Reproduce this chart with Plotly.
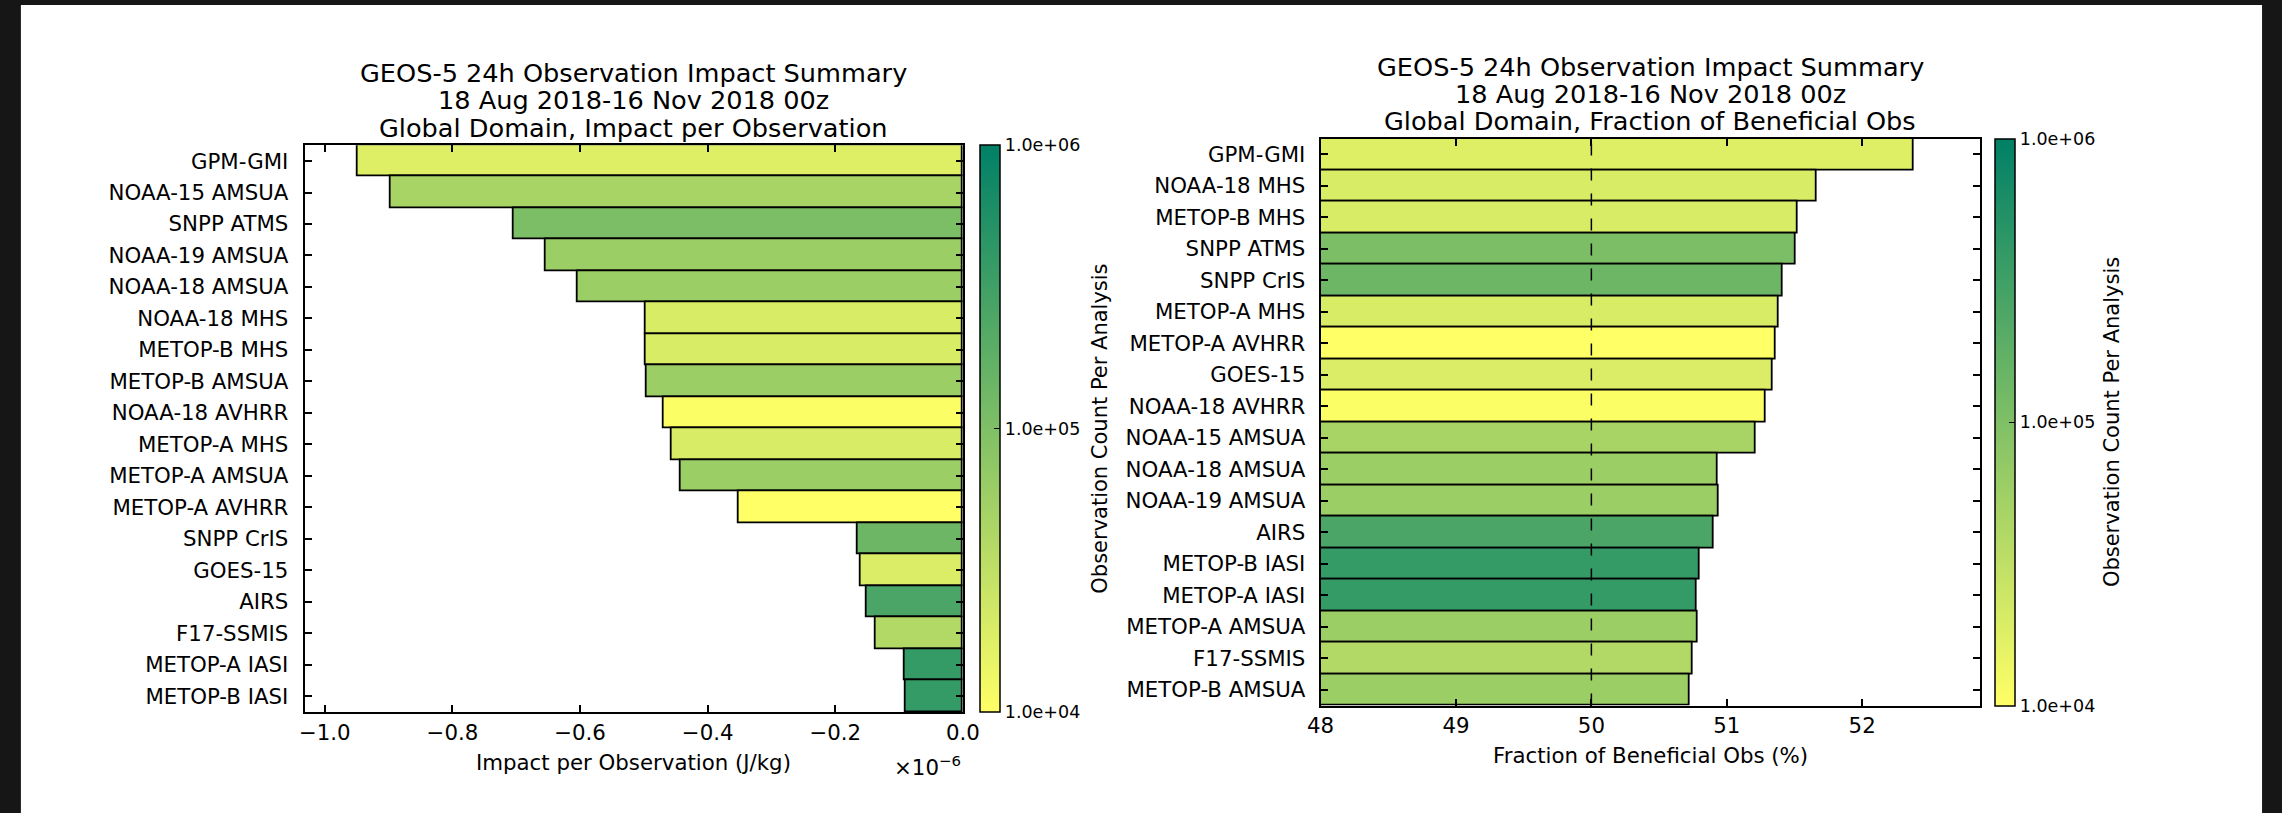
import numpy as np
import plotly.graph_objects as go

# ---------------- data ----------------
instruments_impact = [
    "GPM-GMI", "NOAA-15 AMSUA", "SNPP ATMS", "NOAA-19 AMSUA", "NOAA-18 AMSUA",
    "NOAA-18 MHS", "METOP-B MHS", "METOP-B AMSUA", "NOAA-18 AVHRR", "METOP-A MHS",
    "METOP-A AMSUA", "METOP-A AVHRR", "SNPP CrIS", "GOES-15", "AIRS",
    "F17-SSMIS", "METOP-A IASI", "METOP-B IASI",
]
impact_per_obs = [  # J/kg
    -0.948e-6, -0.897e-6, -0.704e-6, -0.654e-6, -0.604e-6,
    -0.497e-6, -0.497e-6, -0.495e-6, -0.469e-6, -0.456e-6,
    -0.443e-6, -0.352e-6, -0.165e-6, -0.161e-6, -0.151e-6,
    -0.137e-6, -0.092e-6, -0.090e-6,
]
obs_count = [  # observation count per analysis (same order as instruments_impact)
    1.8e4, 4.8e4, 1.07e5, 6.0e4, 6.0e4,
    2.0e4, 2.0e4, 6.0e4, 1.05e4, 2.0e4,
    6.0e4, 1.0e4, 1.4e5, 1.9e4, 2.6e5,
    4.0e4, 3.9e5, 3.9e5,
]

instruments_frac = [
    "GPM-GMI", "NOAA-18 MHS", "METOP-B MHS", "SNPP ATMS", "SNPP CrIS",
    "METOP-A MHS", "METOP-A AVHRR", "GOES-15", "NOAA-18 AVHRR", "NOAA-15 AMSUA",
    "NOAA-18 AMSUA", "NOAA-19 AMSUA", "AIRS", "METOP-B IASI", "METOP-A IASI",
    "METOP-A AMSUA", "F17-SSMIS", "METOP-B AMSUA",
]
frac_beneficial = [  # percent
    52.38, 51.665, 51.52, 51.51, 51.41,
    51.385, 51.363, 51.34, 51.29, 51.21,
    50.934, 50.94, 50.90, 50.80, 50.78,
    50.785, 50.747, 50.725,
]

cbar_tickvals = [4, 5, 6]
cbar_ticktext = ["1.0e+04", "1.0e+05", "1.0e+06"]

count_by_name = dict(zip(instruments_impact, obs_count))
obs_count_frac = [count_by_name[n] for n in instruments_frac]

# ---------------- layout helpers ----------------
W, H = 2282, 813
FONT = "DejaVu Sans"
TICK_SIZE = 21.3
TITLE_SIZE = 25.6


def fx(p):
    return p / W


def fy(p):
    return 1 - p / H


summer_r = [[0.0, "#ffff66"], [1.0, "#008066"]]

# plot boxes (pixels)
L = dict(x0=294.6, x1=962.0, y0=145.3, y1=712.0)
R = dict(x0=1324.6, x1=1993.0, y0=138.5, y1=705.5)


def cbar(box, x_left):
    return dict(
        x=fx(x_left), xanchor="left", xpad=0,
        y=fy(box["y1"]), yanchor="bottom", ypad=0,
        len=(box["y1"] - box["y0"]) / H, lenmode="fraction",
        thickness=20, thicknessmode="pixels",
        outlinecolor="black", outlinewidth=1.5,
        tickvals=cbar_tickvals, ticktext=cbar_ticktext,
        ticks="inside", ticklen=6, tickwidth=1.2, tickcolor="black",
        tickfont=dict(family=FONT, size=17.5, color="black"),
    )


fig = go.Figure()

fig.add_trace(go.Bar(
    x=np.array(impact_per_obs) * 1e6, y=instruments_impact, orientation="h",
    xaxis="x", yaxis="y",
    marker=dict(color=np.log10(obs_count), colorscale=summer_r, cmin=4, cmax=6,
                line=dict(color="black", width=1.8), colorbar=cbar(L, 979.3)),
    showlegend=False,
))

fig.add_trace(go.Bar(
    x=frac_beneficial, y=instruments_frac, orientation="h",
    xaxis="x2", yaxis="y2",
    marker=dict(color=np.log10(obs_count_frac), colorscale=summer_r, cmin=4, cmax=6,
                line=dict(color="black", width=1.8), colorbar=cbar(R, 2008.3)),
    showlegend=False,
))

axis_common = dict(
    showline=True, linewidth=2, linecolor="black", mirror="ticks",
    ticks="inside", ticklen=7, tickwidth=1.5, tickcolor="black",
    showgrid=False, zeroline=False,
    tickfont=dict(family=FONT, size=TICK_SIZE, color="black"),
)

fig.update_layout(
    width=W, height=H,
    margin=dict(l=0, r=0, t=0, b=0),
    paper_bgcolor="#161616",
    plot_bgcolor="white",
    bargap=0,
    font=dict(family=FONT, color="black"),
    xaxis=dict(domain=[fx(L["x0"]), fx(L["x1"])], anchor="y",
               range=[-1.0316, 0], tick0=0, dtick=0.2, tickformat=".1f",
               ticklabelstandoff=0, **axis_common),
    yaxis=dict(domain=[fy(L["y1"]), fy(L["y0"])], anchor="x",
               type="category", categoryorder="array", categoryarray=instruments_impact,
               range=[len(instruments_impact) - 0.5, -0.5],
               ticklabelstandoff=10, **axis_common),
    xaxis2=dict(domain=[fx(R["x0"]), fx(R["x1"])], anchor="y2",
                range=[48, 52.87], tick0=48, dtick=1,
                ticklabelstandoff=0, **axis_common),
    yaxis2=dict(domain=[fy(R["y1"]), fy(R["y0"])], anchor="x2",
                type="category", categoryorder="array", categoryarray=instruments_frac,
                range=[len(instruments_frac) - 0.5, -0.5],
                ticklabelstandoff=9, **axis_common),
)

# white canvas inside the dark frame
fig.add_shape(type="rect", xref="paper", yref="paper",
              x0=fx(7), x1=fx(2279), y0=0, y1=fy(5),
              fillcolor="white", line=dict(width=0), layer="below")

# dashed 50% reference line
fig.add_shape(type="line", xref="x2", yref="y2 domain", x0=50, x1=50, y0=0, y1=1,
              line=dict(color="black", width=1.5, dash="12px,13px"), layer="above")

anns = []
title_lines_L = ["GEOS-5 24h Observation Impact Summary", "18 Aug 2018-16 Nov 2018 00z",
                 "Global Domain, Impact per Observation"]
title_lines_R = ["GEOS-5 24h Observation Impact Summary", "18 Aug 2018-16 Nov 2018 00z",
                 "Global Domain, Fraction of Beneficial Obs"]
for i, t in enumerate(title_lines_L):
    anns.append(dict(text=t, x=fx((L["x0"] + L["x1"]) / 2), y=fy(73 + 27.5 * i)))
for i, t in enumerate(title_lines_R):
    anns.append(dict(text=t, x=fx((R["x0"] + R["x1"]) / 2), y=fy(66.5 + 27.5 * i)))
for a in anns:
    a.update(xref="paper", yref="paper", xanchor="center", yanchor="middle",
             showarrow=False, font=dict(family=FONT, size=TITLE_SIZE, color="black"))

anns += [
    dict(text="Impact per Observation (J/kg)", x=fx((L["x0"] + L["x1"]) / 2), y=fy(762),
         xanchor="center", yanchor="middle", font=dict(family=FONT, size=TICK_SIZE, color="black")),
    dict(text="Fraction of Beneficial Obs (%)", x=fx((R["x0"] + R["x1"]) / 2), y=fy(755),
         xanchor="center", yanchor="middle", font=dict(family=FONT, size=TICK_SIZE, color="black")),
    dict(text="\u00d710<sup>\u22126</sup>", x=fx(962), y=fy(766),
         xanchor="right", yanchor="middle", font=dict(family=FONT, size=TICK_SIZE, color="black")),
    dict(text="Observation Count Per Analysis", x=fx(1101), y=fy((L["y0"] + L["y1"]) / 2),
         textangle=-90, xanchor="center", yanchor="middle",
         font=dict(family=FONT, size=21, color="black")),
    dict(text="Observation Count Per Analysis", x=fx(2127), y=fy((R["y0"] + R["y1"]) / 2),
         textangle=-90, xanchor="center", yanchor="middle",
         font=dict(family=FONT, size=21, color="black")),
]
for a in anns[6:]:
    a.update(xref="paper", yref="paper", showarrow=False)

fig.update_layout(annotations=anns)

fig.write_html("out.html")
